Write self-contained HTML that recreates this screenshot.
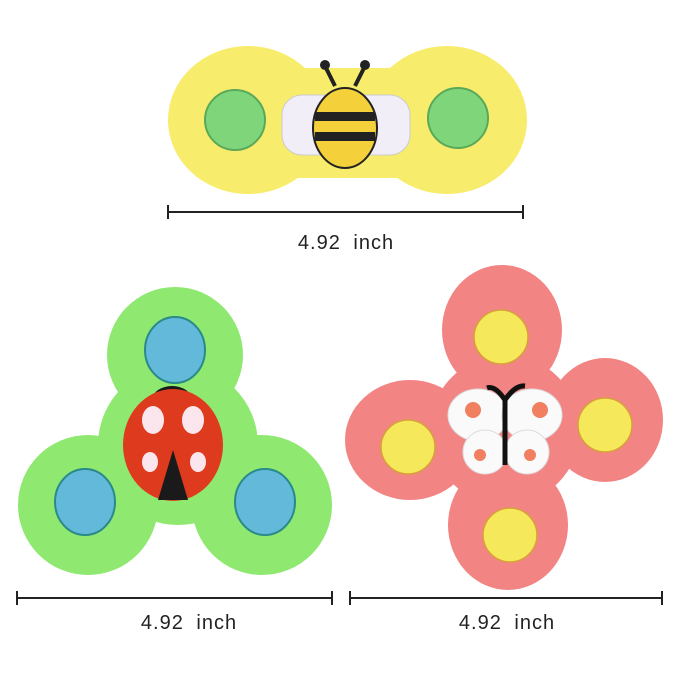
<!DOCTYPE html>
<html><head><meta charset="utf-8"><style>
html,body{margin:0;padding:0;background:#fff;width:679px;height:679px;overflow:hidden}
svg text{font-family:"Liberation Sans",sans-serif;font-size:20px;fill:#222;letter-spacing:1px;word-spacing:6px}
</style></head><body>
<svg width="679" height="679" viewBox="0 0 679 679">
<g>
 <ellipse cx="248" cy="120" rx="80" ry="74" fill="#f7ec6c"/>
 <ellipse cx="447" cy="120" rx="80" ry="74" fill="#f7ec6c"/>
 <rect x="240" y="68" width="215" height="110" rx="40" fill="#f7ec6c"/>
 <circle cx="235" cy="120" r="30" fill="#7fd67a" stroke="#5aa85a" stroke-width="2"/>
 <circle cx="458" cy="118" r="30" fill="#7fd67a" stroke="#5aa85a" stroke-width="2"/>
 <rect x="282" y="95" width="128" height="60" rx="20" fill="#f2eef8" stroke="#ccc"/>
 <ellipse cx="345" cy="128" rx="32" ry="40" fill="#f4d03a" stroke="#222" stroke-width="2"/>
 <rect x="315" y="112" width="60" height="9" fill="#222"/>
 <rect x="315" y="132" width="60" height="9" fill="#222"/>
 <path d="M335 86 L325 66 M355 86 L365 66" stroke="#222" stroke-width="4" fill="none"/>
 <circle cx="325" cy="65" r="5" fill="#222"/><circle cx="365" cy="65" r="5" fill="#222"/>
</g>
<g>
 <line x1="168" y1="212" x2="523" y2="212" stroke="#222" stroke-width="2"/>
 <line x1="168" y1="205" x2="168" y2="219" stroke="#222" stroke-width="2"/>
 <line x1="523" y1="205" x2="523" y2="219" stroke="#222" stroke-width="2"/>
 <text x="346" y="249" text-anchor="middle">4.92 inch</text>
</g>
<g>
 <circle cx="175" cy="355" r="68" fill="#8fe870"/>
 <circle cx="88" cy="505" r="70" fill="#8fe870"/>
 <circle cx="262" cy="505" r="70" fill="#8fe870"/>
 <circle cx="178" cy="445" r="80" fill="#8fe870"/>
 <ellipse cx="175" cy="350" rx="30" ry="33" fill="#62b9da" stroke="#2a8a8a" stroke-width="2"/>
 <ellipse cx="85" cy="502" rx="30" ry="33" fill="#62b9da" stroke="#2a8a8a" stroke-width="2"/>
 <ellipse cx="265" cy="502" rx="30" ry="33" fill="#62b9da" stroke="#2a8a8a" stroke-width="2"/>
 <ellipse cx="172" cy="400" rx="20" ry="14" fill="#1a1a1a"/>
 <ellipse cx="173" cy="445" rx="50" ry="56" fill="#de3b1e"/>
 <ellipse cx="153" cy="420" rx="11" ry="14" fill="#fbe6ee"/><ellipse cx="193" cy="420" rx="11" ry="14" fill="#fbe6ee"/>
 <ellipse cx="150" cy="462" rx="8" ry="10" fill="#fbe6ee"/><ellipse cx="198" cy="462" rx="8" ry="10" fill="#fbe6ee"/>
 <path d="M173 450 L158 500 L188 500Z" fill="#1a1a1a"/>
</g>
<g>
 <ellipse cx="502" cy="330" rx="60" ry="65" fill="#f28484"/>
 <ellipse cx="410" cy="440" rx="65" ry="60" fill="#f28484"/>
 <ellipse cx="605" cy="420" rx="58" ry="62" fill="#f28484"/>
 <ellipse cx="508" cy="525" rx="60" ry="65" fill="#f28484"/>
 <circle cx="505" cy="430" r="75" fill="#f28484"/>
 <circle cx="501" cy="337" r="27" fill="#f5e85a" stroke="#d8a03a" stroke-width="1.5"/>
 <circle cx="408" cy="447" r="27" fill="#f5e85a" stroke="#d8a03a" stroke-width="1.5"/>
 <circle cx="605" cy="425" r="27" fill="#f5e85a" stroke="#d8a03a" stroke-width="1.5"/>
 <circle cx="510" cy="535" r="27" fill="#f5e85a" stroke="#d8a03a" stroke-width="1.5"/>
 <ellipse cx="478" cy="415" rx="30" ry="26" fill="#fafafa" stroke="#ddd"/>
 <ellipse cx="532" cy="415" rx="30" ry="26" fill="#fafafa" stroke="#ddd"/>
 <ellipse cx="485" cy="452" rx="22" ry="22" fill="#fafafa" stroke="#ddd"/>
 <ellipse cx="527" cy="452" rx="22" ry="22" fill="#fafafa" stroke="#ddd"/>
 <circle cx="473" cy="410" r="8" fill="#f08060"/><circle cx="540" cy="410" r="8" fill="#f08060"/>
 <circle cx="480" cy="455" r="6" fill="#f08060"/><circle cx="530" cy="455" r="6" fill="#f08060"/>
 <path d="M505 400 L505 465 M505 400 Q495 385 487 388 M505 400 Q515 385 525 386" stroke="#111" stroke-width="5" fill="none"/>
</g>
<g>
 <line x1="17" y1="598" x2="332" y2="598" stroke="#222" stroke-width="2"/>
 <line x1="17" y1="591" x2="17" y2="605" stroke="#222" stroke-width="2"/>
 <line x1="332" y1="591" x2="332" y2="605" stroke="#222" stroke-width="2"/>
 <text x="189" y="629" text-anchor="middle">4.92 inch</text>
</g>
<g>
 <line x1="350" y1="598" x2="662" y2="598" stroke="#222" stroke-width="2"/>
 <line x1="350" y1="591" x2="350" y2="605" stroke="#222" stroke-width="2"/>
 <line x1="662" y1="591" x2="662" y2="605" stroke="#222" stroke-width="2"/>
 <text x="507" y="629" text-anchor="middle">4.92 inch</text>
</g>
</svg>
</body></html>
